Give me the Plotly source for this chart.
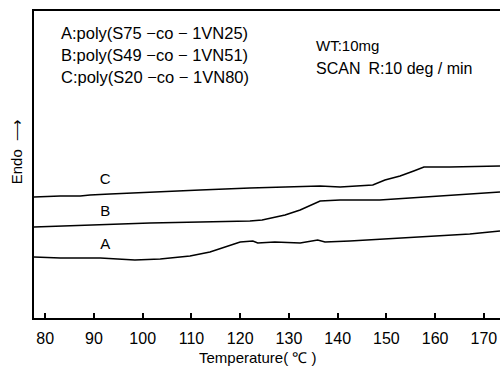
import plotly.graph_objects as go

# Data (temperature in deg C, heat flow in arbitrary units)
temp_A = [77.7, 83.1, 91.3, 98.4, 103.6, 109.7, 113.8, 116.9, 120.0, 122.6, 123.6, 127.1, 132.3, 135.9, 137.4, 142.5, 152.7, 160.9, 167.1, 171.2, 173.3]
endo_A = [61, 60, 60, 58, 59, 62, 66, 71, 76, 77, 75, 76, 75, 78, 76, 77, 80, 82, 84, 86, 87]

temp_B = [77.7, 83.1, 91.3, 101.5, 111.8, 122.0, 124.5, 127.1, 129.2, 132.3, 134.3, 136.4, 140.5, 144.5, 148.6, 154.8, 160.9, 167.1, 171.2, 173.3]
endo_B = [91, 92, 93, 95, 96, 97, 98, 101, 103, 108, 112, 117, 118, 118, 118, 120, 122, 124, 126, 126]

temp_C = [77.7, 83.1, 87.2, 89.2, 93.3, 97.4, 103.6, 111.8, 122.0, 128.2, 132.3, 136.4, 140.5, 144.5, 147.2, 149.7, 152.8, 155.6, 157.7, 163.0, 169.1, 173.3]
endo_C = [121, 122, 122, 123, 124, 125, 126, 128, 130, 131, 132, 132, 131, 132, 133, 138, 142, 147, 151, 151, 152, 152]

curve_names = ["A", "B", "C"]
label_temp = 92.3
label_endo = [73, 106, 138]

x_ticks = [80, 90, 100, 110, 120, 130, 140, 150, 160, 170]
legend_lines = ["A:poly(S75 \u2212co \u2212 1VN25)", "B:poly(S49 \u2212co \u2212 1VN51)", "C:poly(S20 \u2212co \u2212 1VN80)"]
cond_lines = ["WT:10mg", "SCAN  R:10 deg / min"]

FONT = "Liberation Sans, Arial"

fig = go.Figure()
for t, e in [(temp_A, endo_A), (temp_B, endo_B), (temp_C, endo_C)]:
    fig.add_trace(go.Scatter(x=t, y=e, mode="lines", line=dict(color="black", width=1.6), showlegend=False))

fig.add_trace(go.Scatter(x=[label_temp] * 3, y=label_endo, mode="text", text=curve_names,
                         textfont=dict(family=FONT, size=15, color="black"), showlegend=False))

ann = []
for i, (s, yy) in enumerate(zip(legend_lines, [0.928, 0.857, 0.785])):
    ann.append(dict(xref="paper", yref="paper", x=0.054, y=yy, text=s, showarrow=False,
                    xanchor="left", yanchor="middle", font=dict(family=FONT, size=16.5, color="black")))
for i, (s, yy, fs) in enumerate(zip(cond_lines, [0.889, 0.814], [15, 16])):
    ann.append(dict(xref="paper", yref="paper", x=0.601, y=yy, text=s.replace("  ", "\u2002"), showarrow=False,
                    xanchor="left", yanchor="middle", font=dict(family=FONT, size=fs, color="black")))
ann.append(dict(xref="paper", yref="paper", x=-0.0386, y=0.54, text="Endo  \u27f6", showarrow=False,
                textangle=-90, xanchor="center", yanchor="middle", font=dict(family=FONT, size=15, color="black")))
ann.append(dict(xref="paper", yref="paper", x=0.48, y=-0.13, text="Temperature( \u2103 )", showarrow=False,
                xanchor="center", yanchor="middle", font=dict(family=FONT, size=15, color="black")))

fig.update_layout(
    width=500, height=375,
    margin=dict(l=34, r=0, t=11, b=57),
    plot_bgcolor="white", paper_bgcolor="white",
    annotations=ann,
    xaxis=dict(range=[77.7, 173.3], tickvals=x_ticks, ticks="inside", ticklen=5, tickwidth=1.5,
               tickcolor="black", showline=True, linecolor="black", linewidth=2, mirror=True,
               showgrid=False, zeroline=False, automargin=False, ticklabelstandoff=5,
               tickfont=dict(family=FONT, size=16, color="black")),
    yaxis=dict(range=[0, 307], showticklabels=False, ticks="", showline=True, linecolor="black",
               linewidth=2, showgrid=False, zeroline=False, automargin=False),
)

fig.write_html("out.html", config={"displayModeBar": False},
               post_script="document.body.style.margin='0px';")
